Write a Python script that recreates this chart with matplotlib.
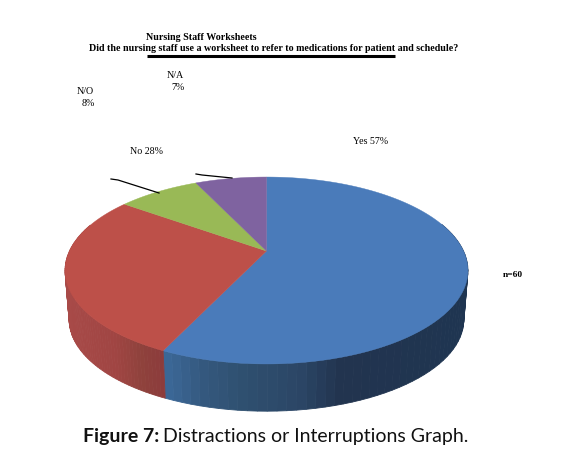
import numpy as np
import matplotlib
matplotlib.use("Agg")
import matplotlib.pyplot as plt
from matplotlib.colors import to_rgb
from matplotlib.patches import Polygon

categories = ["Yes", "No", "N/O", "N/A"]
values = [57, 28, 8, 7]
top_colors = ["#4a7bba", "#bd5049", "#99b956", "#7f63a0"]
side_ramps = [{"x": [170, 200, 240, 300, 340, 465],
               "c": ["#3b6796", "#35597f", "#2f5070", "#2b4666", "#22344f", "#1f3551"]},
              {"x": [65, 115, 140, 168],
               "c": ["#a84a48", "#a04543", "#8f423c", "#8b3a3c"]},
              {"x": [0, 1], "c": ["#7f9a48", "#7f9a48"]},
              {"x": [0, 1], "c": ["#66508a", "#66508a"]}]
title_lines = ["Nursing Staff Worksheets",
               "Did the nursing staff use a worksheet to refer to medications for patient and schedule?"]

W, H = 568, 460
fig = plt.figure(figsize=(W / 100, H / 100), dpi=100, facecolor="white")
ax = fig.add_axes([0, 0, 1, 1])
ax.set_xlim(0, W)
ax.set_ylim(H, 0)
ax.axis("off")

A = 0.2086


def project(theta, cx, ay, sx, sy):
    x, y = np.sin(theta), np.cos(theta)
    w = 1 + A * y
    return cx + sx * x / w, ay - sy * y / w


def ramp_color(ramp, x):
    rgb = np.array([to_rgb(c) for c in ramp["c"]])
    return tuple(np.interp(x, ramp["x"], rgb[:, j]) for j in range(3))


edges = np.radians(np.cumsum([0] + values) / sum(values) * 360)

# side wall: strips between the top rim and the base rim, coloured per slice
TOP = dict(cx=266.5, ay=252, sx=197, sy=89.4)
BASE = dict(cx=266.5, ay=301.5, sx=193, sy=87.6)
for i in range(len(values)):
    ts = np.linspace(edges[i], edges[i + 1], 90)
    for k in range(len(ts) - 1):
        t = ts[k:k + 2]
        if np.cos(t.mean()) > 0.3:
            continue
        xt, yt = project(t, **TOP)
        xb, yb = project(t, **BASE)
        c = ramp_color(side_ramps[i], xt.mean())
        ax.add_patch(Polygon(np.c_[np.r_[xt, xb[::-1]], np.r_[yt, yb[::-1]]],
                             closed=True, fc=c, ec=c, lw=0.6))

# top face
for i in range(len(values)):
    t = np.linspace(edges[i], edges[i + 1], 200)
    xr, yr = project(t, **TOP)
    ax.add_patch(Polygon(np.c_[np.r_[TOP["cx"], xr], np.r_[TOP["ay"], yr]],
                         closed=True, fc=top_colors[i], ec=top_colors[i], lw=0.3))

# leader lines
ax.plot([111, 118, 159], [180, 181, 194], color="black", lw=0.9)
ax.plot([196, 202, 232], [175, 176, 179], color="black", lw=0.9)

serif = "Liberation Serif"
fs = 7.2
ax.text(201.5, 37.5, title_lines[0], family=serif, weight="bold", size=fs,
        ha="center", va="center")
ax.text(273.5, 48.5, title_lines[1], family=serif, weight="bold", size=fs,
        ha="center", va="center")
ax.plot([147, 395], [56.5, 56.5], color="black", lw=2.2, solid_capstyle="butt")

ax.text(175, 75.5, categories[3], family=serif, size=fs, ha="center", va="center")
ax.text(177.5, 87.5, f"{values[3]}%", family=serif, size=fs, ha="center", va="center")
ax.text(85, 92, categories[2], family=serif, size=fs, ha="center", va="center")
ax.text(88, 104, f"{values[2]}%", family=serif, size=fs, ha="center", va="center")
ax.text(147, 152, f"{categories[1]} {values[1]}%", family=serif, size=fs, ha="center", va="center")
ax.text(371, 142, f"{categories[0]} {values[0]}%", family=serif, size=fs, ha="center", va="center")
ax.text(513, 275.5, "n=60", family=serif, weight="bold", size=6.8, ha="center", va="center")

t1 = ax.text(83, 437, "Figure 7:", family="Lato", weight="bold", size=14,
             ha="left", va="center", color="#111111")
fig.canvas.draw()
bb = t1.get_window_extent()
ax.text(bb.x1 + 4, 437, "Distractions or Interruptions Graph.", family="Lato", size=14,
        ha="left", va="center", color="#111111")

fig.savefig("out.png", dpi=100, facecolor="white")
